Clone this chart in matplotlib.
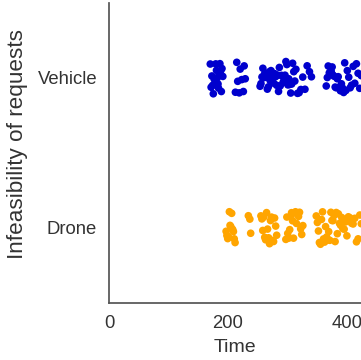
import numpy as np
import matplotlib
matplotlib.use("Agg")
import matplotlib.pyplot as plt
import seaborn as sns

# request times, one entry per infeasible request
vehicle_times = [
    170.2, 171.6, 172.9, 174.1, 175.3, 176.8, 177.7, 179.4, 180.6, 181.9,
    183.2, 184.0, 185.7, 186.4, 187.6, 188.8, 189.9, 191.3,
    212.4, 214.7, 216.3, 218.9, 220.5, 223.1, 225.8, 227.2, 229.0,
    253.9, 255.4, 257.1, 258.6, 260.2, 261.5, 263.0, 264.7, 266.1, 267.8,
    269.3, 270.6, 272.2, 273.9, 275.4, 276.8, 278.5, 280.1, 281.6, 283.2,
    284.9, 286.3, 287.7, 289.4, 291.0, 292.5, 294.2, 295.8, 297.3, 298.9,
    300.6, 302.1, 303.7, 305.4, 307.0, 308.6, 310.5, 312.3, 314.1, 316.8,
    319.5, 322.4, 325.6, 329.3, 333.0, 336.9, 340.2,
    365.1, 366.9, 368.4, 370.2, 371.8, 373.5, 375.0, 376.7, 378.3, 380.1,
    381.8, 383.6, 385.2, 387.0, 388.9, 390.6, 392.4, 394.3, 396.1, 398.2,
    400.5, 402.9, 405.3, 407.6, 410.4, 413.1, 415.8, 418.6, 421.3, 423.9,
]
drone_times = [
    196.8, 198.1, 199.5, 200.6, 202.3, 203.4, 204.9, 206.2, 207.8, 209.1,
    210.5, 211.9, 234.2, 236.7, 238.1,
    255.3, 256.9, 258.4, 260.1, 261.7, 263.2, 264.8, 266.5, 268.2, 269.8,
    271.4, 273.0, 274.9, 276.6, 278.3, 280.1, 281.8,
    297.2, 298.9, 300.4, 302.0, 303.7, 305.3, 306.8, 308.5, 310.1, 311.8,
    313.4, 315.0, 316.7, 318.5, 320.2, 322.1, 323.9, 325.8,
    348.3, 350.2, 352.0, 353.6, 355.4, 357.1, 358.9, 360.5, 362.3, 364.0,
    365.8, 367.6, 369.2, 371.1, 372.9, 374.6, 376.4, 378.2, 380.0, 381.9,
    383.7, 385.5, 387.4, 389.2, 391.1, 393.0, 395.2, 397.4, 399.8, 402.3,
    404.9, 407.6, 410.2, 413.0, 415.9, 418.7, 421.5, 424.0,
]
categories = ["Vehicle", "Drone"]
colors = {"Vehicle": "mediumblue", "Drone": "orange"}

times = vehicle_times + drone_times
labels = ["Vehicle"] * len(vehicle_times) + ["Drone"] * len(drone_times)

sns.set_style("white")
plt.rcParams["font.family"] = ["Liberation Sans", "DejaVu Sans"]

np.random.seed(7)
fig = plt.figure(figsize=(3.61, 3.60), dpi=100)
ax = fig.add_axes([109 / 361, 57 / 360, 252 / 361, 300 / 360])

sns.stripplot(x=times, y=labels, order=categories, hue=labels,
              palette=colors, jitter=0.11, size=5.5, legend=False, ax=ax)

ax.set_xlim(0, 423.5)
ax.set_ylim(1.5, -0.5)
ax.set_xticks([0, 200, 400])
ax.set_xlabel("Time", fontsize=14, color="#333333", labelpad=5)
ax.set_ylabel("Infeasibility of requests", fontsize=16.2, color="#333333")
ax.yaxis.set_label_coords(-0.321, 0.53)
ax.tick_params(length=0, pad=8.5, labelsize=13.3, labelcolor="#333333")
sns.despine(ax=ax)
for s in ["left", "bottom"]:
    ax.spines[s].set_color("#555555")
    ax.spines[s].set_linewidth(1.25)

fig.savefig("out.png", dpi=100)
